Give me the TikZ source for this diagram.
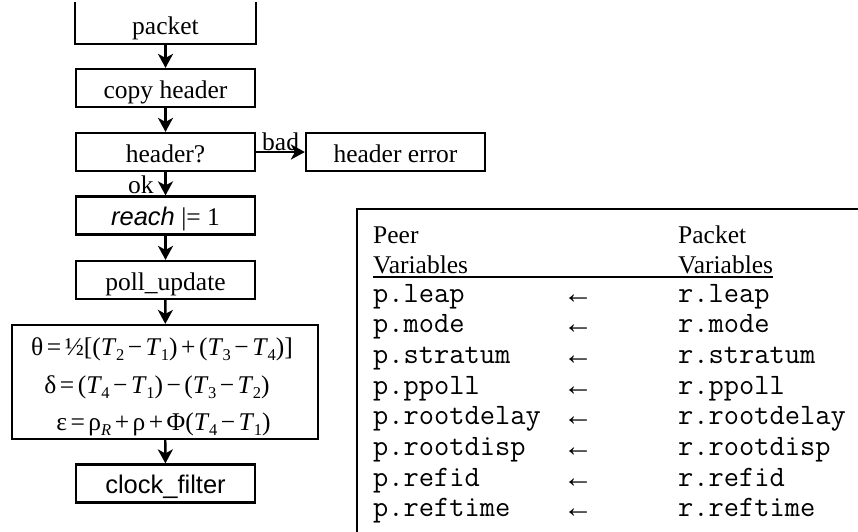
\documentclass[tikz,border=0pt]{standalone}
\usepackage{fontspec}
\setmainfont{Liberation Serif}
\newfontfamily\arialfont{Liberation Sans}
\usetikzlibrary{arrows.meta}

% italic T with a lowered index
\newcommand{\Tsub}[1]{\textit{T}\kern-0.5pt\raisebox{-5pt}{\fontsize{16.5}{16.5}\selectfont #1}}
\newcommand{\Rsub}{\raisebox{-5pt}{\fontsize{16.5}{16.5}\selectfont\textit{R}}}
\newcommand{\op}[1]{\kern3.5pt#1\kern3.5pt}

\begin{document}
\begin{tikzpicture}[x=1pt,y=-1pt,
  font=\fontsize{25.5}{30}\selectfont,
  box/.style={draw, line width=2.2pt, minimum width=179pt, minimum height=38pt,
              inner sep=0pt, text height=24pt, text depth=4pt},
  flow/.style={line width=2.4pt, -{Stealth[length=14pt,width=15pt,inset=4pt]}},
  lbl/.style={inner sep=0pt, anchor=base west},
  mono/.style={inner sep=0pt, anchor=base west, font=\fontsize{29.6}{30}\selectfont\ttfamily},
  larrow/.style={inner sep=0pt, anchor=base, font=\fontsize{30}{30}\selectfont},
]
\useasboundingbox (0,0) rectangle (858,531);

% ---- flow chart ----
\node[box, draw=none] (packet) at (165.5,24) {packet};
\draw[line width=2.2pt] ([yshift=2pt]packet.north west) -- (packet.south west)
  -- (packet.south east) -- ([yshift=2pt]packet.north east);
\node[box] (copy)   at (165.5,88)  {copy header};
\node[box] (hdr)    at (165.5,152) {header?};
\node[box] (herr)   at (395.5,152) {header error};
\node[box] (reach)  at (165.5,215.5) {{\arialfont\itshape reach} |= 1};
\node[box] (poll)   at (165.5,280) {poll\_update};
\node[draw, line width=2.2pt, minimum width=306pt, minimum height=114pt, inner sep=0pt]
  (calc) at (165,382) {};
\node[inner sep=0pt, anchor=base] (f1) at (162,355)
  {θ\op{=}½[(\Tsub{2}\op{−}\Tsub{1})\op{+}(\Tsub{3}\op{−}\Tsub{4})]};
\node[inner sep=0pt, anchor=base] (f2) at (157,393)
  {δ\op{=}(\Tsub{4}\op{−}\Tsub{1})\op{−}(\Tsub{3}\op{−}\Tsub{2})};
\node[inner sep=0pt, anchor=base] (f3) at (163.5,430)
  {ε\op{=}ρ\Rsub\op{+}ρ\op{+}Φ(\Tsub{4}\op{−}\Tsub{1})};
\node[box, font=\fontsize{25.5}{30}\selectfont\arialfont] (clock) at (165.5,483.5) {clock\_filter};

\draw[flow] (packet) -- (copy);
\draw[flow] (copy) -- (hdr);
\draw[flow] (hdr) -- (reach);
\draw[flow] (reach) -- (poll);
\draw[flow] (poll) -- (calc);
\draw[flow] (calc) -- (clock);
\draw[flow] (hdr) -- (herr);
\node[lbl] (ok)  at (128,193) {ok};
\node[lbl] (bad) at (262,150) {bad};

% ---- variable table ----
\coordinate (tbl-bl) at (357,540);
\coordinate (tbl-tl) at (357,209);
\coordinate (tbl-tr) at (870,209);
\draw[line width=1.8pt] (tbl-bl) -- (tbl-tl) -- (tbl-tr);

\node[lbl] (peer)   at (373,243) {Peer};
\node[lbl] (pvars)  at (373,273) {Variables};
\node[lbl] (pkt)    at (678,243) {Packet};
\node[lbl] (rvars)  at (678,273) {Variables};
\draw[line width=1.1pt] ([yshift=-4pt]pvars.base west) -- ([yshift=-4pt]pvars.base west -| rvars.base east);

\foreach \v [count=\i from 0] in {leap,mode,stratum,ppoll,rootdelay,rootdisp,refid,reftime} {
  \node[mono] (p-\v) at (373,302+30.7*\i) {p.\v};
  \node[larrow] (a-\v) at (578,303+30.7*\i) {←};
  \node[mono] (r-\v) at (678,302+30.7*\i) {r.\v};
}
\end{tikzpicture}
\end{document}
